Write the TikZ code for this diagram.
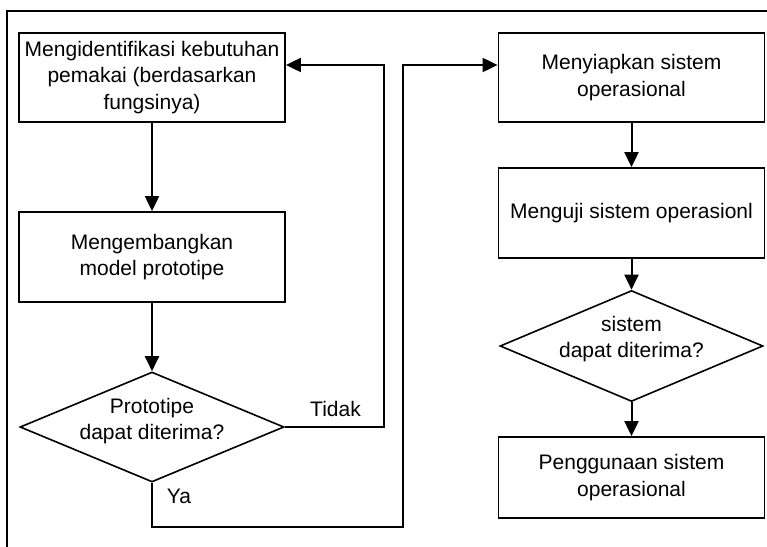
\documentclass[tikz,border=0pt]{standalone}
\usepackage{fontspec}
\setmainfont{Liberation Sans}
\usetikzlibrary{arrows.meta,shapes.geometric}

\begin{document}
\begin{tikzpicture}[x=1pt,y=-1pt,
  every node/.style={font=\fontsize{21}{26.5}\selectfont},
  box/.style={draw,line width=1.8pt,rectangle,inner sep=0pt,align=center,
    minimum width=266pt},
  decision/.style={draw,line width=1.6pt,diamond,inner sep=0pt},
  caption/.style={align=center,inner sep=0pt},
  flow/.style={line width=2pt,-{Triangle[length=15pt,width=14pt]}},
  plain/.style={line width=1.8pt}]

\useasboundingbox (0,0) rectangle (767,546);
\clip (0,0) rectangle (767,546);
\fill[white] (0,0) rectangle (767,546);

% outer frame
\draw[plain] (7,560) -- (7,11) -- (780,11);

% left column: prototyping loop
\node[box,minimum height=89pt] (ident) at (152,77.5)
  {Mengidentifikasi kebutuhan\\pemakai (berdasarkan\\fungsinya)};
\node[box,minimum height=90pt] (proto) at (152,257)
  {Mengembangkan\\model prototipe};
\node[decision,minimum width=264pt,minimum height=110pt] (cekp) at (152,427) {};
\node[caption] (cekptxt) at (152,421) {Prototipe\\dapat diterima?};

% right column: operational system
\node[box,minimum height=89pt] (siap) at (631.5,77.5)
  {Menyiapkan sistem\\operasional};
\node[box,minimum height=90pt] (uji) at (631.5,213)
  {Menguji sistem operasionl};
\node[decision,minimum width=263pt,minimum height=111pt] (ceks) at (631.5,346) {};
\node[caption] (ceksstxt) at (631.5,339) {sistem\\dapat diterima?};
\node[box,minimum height=81pt] (guna) at (631.5,477.5)
  {Penggunaan sistem\\operasional};

% routing points
\coordinate (tk) at (384,65);
\coordinate (ya) at (403,527);
\coordinate (yb) at (403,65);

% connectors
\draw[flow] (ident) -- (proto);
\draw[flow] (proto) -- (cekp.north);
\draw[flow] (cekp.east) -| (tk) -- (ident.east |- tk);
\draw[flow] (cekp.south) |- (ya) -- (yb) -- (siap.west |- yb);
\draw[flow] (siap) -- (uji);
\draw[flow] (uji) -- (ceks.north);
\draw[flow] (ceks.south) -- (guna);

% branch labels
\node[inner sep=0pt] (tidak) at (335.5,409) {Tidak};
\node[inner sep=0pt] (yalbl) at (179,496) {Ya};
\end{tikzpicture}
\end{document}
